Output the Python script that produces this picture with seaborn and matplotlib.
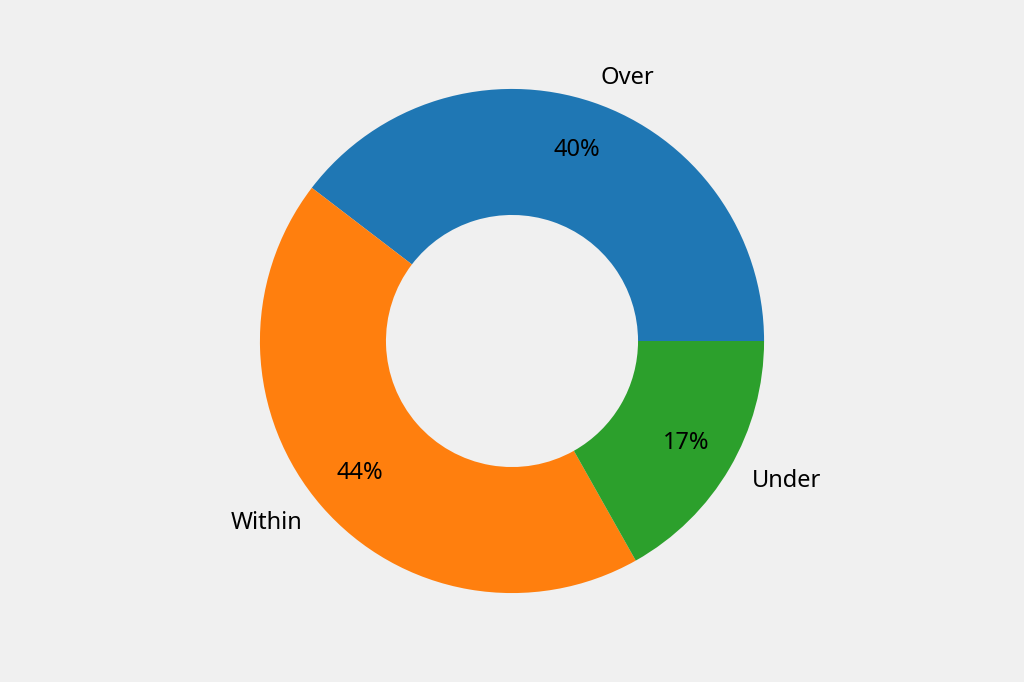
import matplotlib
matplotlib.use("Agg")
import matplotlib.pyplot as plt
import seaborn as sns

# --- Dados ---
categories = ["Over", "Within", "Under"]
counts = [40, 44, 17]

sns.set_theme(style="white")
plt.rcParams["font.family"] = ["Noto Sans", "DejaVu Sans"]

colors = sns.color_palette("tab10", 3)

fig = plt.figure(figsize=(10.24, 6.82), dpi=100, facecolor="#f0f0f0")
ax = fig.add_axes([0, 0.038, 1, 0.924])
ax.set_facecolor("#f0f0f0")

wedges, texts, autotexts = ax.pie(
    counts,
    labels=categories,
    colors=colors,
    autopct="%1.0f%%",
    startangle=0,
    pctdistance=0.8,
    labeldistance=1.1,
    wedgeprops=dict(width=0.5, linewidth=0),
    textprops=dict(fontsize=17, color="black"),
)
ax.set_aspect("equal")

fig.savefig("out.png", dpi=100, facecolor=fig.get_facecolor())
